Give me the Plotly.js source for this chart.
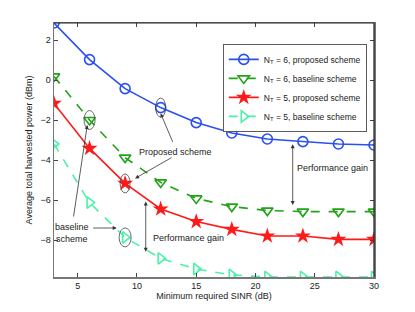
<!DOCTYPE html>
<html>
<head>
<meta charset="utf-8">
<script src="https://cdn.plot.ly/plotly-3.0.1.min.js"></script>
<style>html,body{margin:0;padding:0;background:#fff;}#chart{width:415px;height:312px;}</style>
</head>
<body>
<div id="chart"></div>
<script>
const sinr = [3, 6, 9, 12, 15, 18, 21, 24, 27, 30];
const nt6Proposed = [2.85, 1.02, -0.43, -1.38, -2.13, -2.65, -2.95, -3.08, -3.2, -3.25];
const nt6Baseline = [0.18, -2.0, -3.88, -5.12, -5.92, -6.33, -6.53, -6.58, -6.58, -6.58];
const nt5Proposed = [-1.17, -3.42, -5.17, -6.45, -7.08, -7.47, -7.8, -7.8, -7.97, -7.97];
const nt5Baseline = [-3.2, -6.13, -7.87, -8.92, -9.45, -9.75, -9.85, -9.85, -9.85, -9.85];
const seriesNames = [
  'N<sub>T</sub> = 6, proposed scheme',
  'N<sub>T</sub> = 6, baseline scheme',
  'N<sub>T</sub> = 5, proposed scheme',
  'N<sub>T</sub> = 5, baseline scheme'
];
const xTicks = [5, 10, 15, 20, 25, 30];
const yTicks = [-8, -6, -4, -2, 0, 2];

const blue = '#2b4ff2', green = '#22a31a', red = '#ff1a1a', mint = '#4df0a8';
const traces = [
  {x: sinr, y: nt6Proposed, name: seriesNames[0], mode: 'lines+markers',
   line: {color: blue, width: 1.6}, marker: {symbol: 'circle-open', size: 10, color: blue, line: {width: 1.6}}},
  {x: sinr, y: nt6Baseline, name: seriesNames[1], mode: 'lines+markers',
   line: {color: green, width: 1.6, dash: 'dash'}, marker: {symbol: 'triangle-down-open', size: 10, color: green, line: {width: 1.6}}},
  {x: sinr, y: nt5Proposed, name: seriesNames[2], mode: 'lines+markers',
   line: {color: red, width: 1.6}, marker: {symbol: 'star', size: 12, color: red, line: {width: 0}}},
  {x: sinr, y: nt5Baseline, name: seriesNames[3], mode: 'lines+markers',
   line: {color: mint, width: 1.6, dash: 'dash'}, marker: {symbol: 'triangle-right-open', size: 10, color: mint, line: {width: 1.6}}}
];

function ellipse(xv, yv, w, h) {
  return {type: 'circle', xref: 'x', yref: 'y', xsizemode: 'pixel', ysizemode: 'pixel',
    xanchor: xv, yanchor: yv, x0: -w / 2, x1: w / 2, y0: -h / 2, y1: h / 2,
    line: {color: '#444', width: 0.8}};
}
const shapes = [
  ellipse(sinr[3], nt6Proposed[3], 10, 19),
  ellipse(sinr[1], nt6Baseline[1], 11, 19),
  ellipse(sinr[2], nt5Proposed[2], 10, 19),
  ellipse(sinr[2], nt5Baseline[2], 12, 19),
  {type: 'line', xref: 'paper', yref: 'paper', x0: 0, x1: 1, y0: 1, y1: 1, line: {color: '#222', width: 1.2}},
  {type: 'line', xref: 'paper', yref: 'paper', x0: 1, x1: 1, y0: 0, y1: 1, line: {color: '#222', width: 1.2}}
];

const fnt = {family: 'Liberation Sans, Arial, sans-serif', size: 9, color: '#222'};
function arrow(x, y, ax, ay, both) {
  return {x: x, y: y, ax: ax, ay: ay, xref: 'x', yref: 'y', axref: 'x', ayref: 'y', text: '',
    showarrow: true, arrowhead: 2, arrowsize: 1, arrowwidth: 0.8, arrowcolor: '#333',
    arrowside: both ? 'end+start' : 'end', startarrowhead: 2, startarrowsize: 1};
}
function label(x, y, text) {
  return {x: x, y: y, xref: 'x', yref: 'y', text: text, showarrow: false, font: fnt, align: 'center'};
}
const annotations = [
  label(13.21, -3.62, 'Proposed scheme'),
  arrow(12.0, -1.67, 13.07, -3.17),
  arrow(9.84, -4.92, 13.04, -3.84),
  label(4.48, -7.65, 'baseline<br>scheme'),
  arrow(5.81, -2.25, 4.63, -6.9),
  arrow(8.29, -7.4, 6.18, -7.4),
  label(14.37, -7.88, 'Performance gain'),
  arrow(10.74, -8.585, 10.74, -6.0, true),
  label(26.46, -4.385, 'Performance gain'),
  arrow(23.14, -6.25, 23.14, -3.135, true)
];

const axisCommon = {showline: true, mirror: 'ticks', linecolor: '#777', linewidth: 1.5,
  ticks: 'inside', ticklen: 4, tickcolor: '#444', showgrid: false, zeroline: false,
  tickfont: {family: 'Liberation Sans, Arial, sans-serif', size: 9, color: '#222'}};

const layout = {
  width: 415, height: 312,
  margin: {l: 54, r: 41, t: 23, b: 35},
  paper_bgcolor: '#fff', plot_bgcolor: '#fff',
  showlegend: true,
  legend: {x: 0.978, xanchor: 'right', y: 0.917, yanchor: 'top', bgcolor: '#fff',
    bordercolor: '#333', borderwidth: 0.8, font: {family: 'Liberation Sans, Arial, sans-serif', size: 8.5, color: '#222'},
    tracegroupgap: 0},
  xaxis: Object.assign({}, axisCommon, {range: [3, 30], tickvals: xTicks,
    title: {text: 'Minimum required SINR (dB)', standoff: 2, font: {family: 'Liberation Sans, Arial, sans-serif', size: 9, color: '#222'}}}),
  yaxis: Object.assign({}, axisCommon, {range: [-9.85, 2.85], tickvals: yTicks,
    ticktext: yTicks.map(v => v < 0 ? '\u2212' + Math.abs(v) : String(v)),
    title: {text: 'Average total harvested power (dBm)', standoff: 6, font: {family: 'Liberation Sans, Arial, sans-serif', size: 9, color: '#222'}}}),
  shapes: shapes,
  annotations: annotations
};

Plotly.newPlot('chart', traces, layout, {displayModeBar: false, staticPlot: true});
</script>
</body>
</html>
